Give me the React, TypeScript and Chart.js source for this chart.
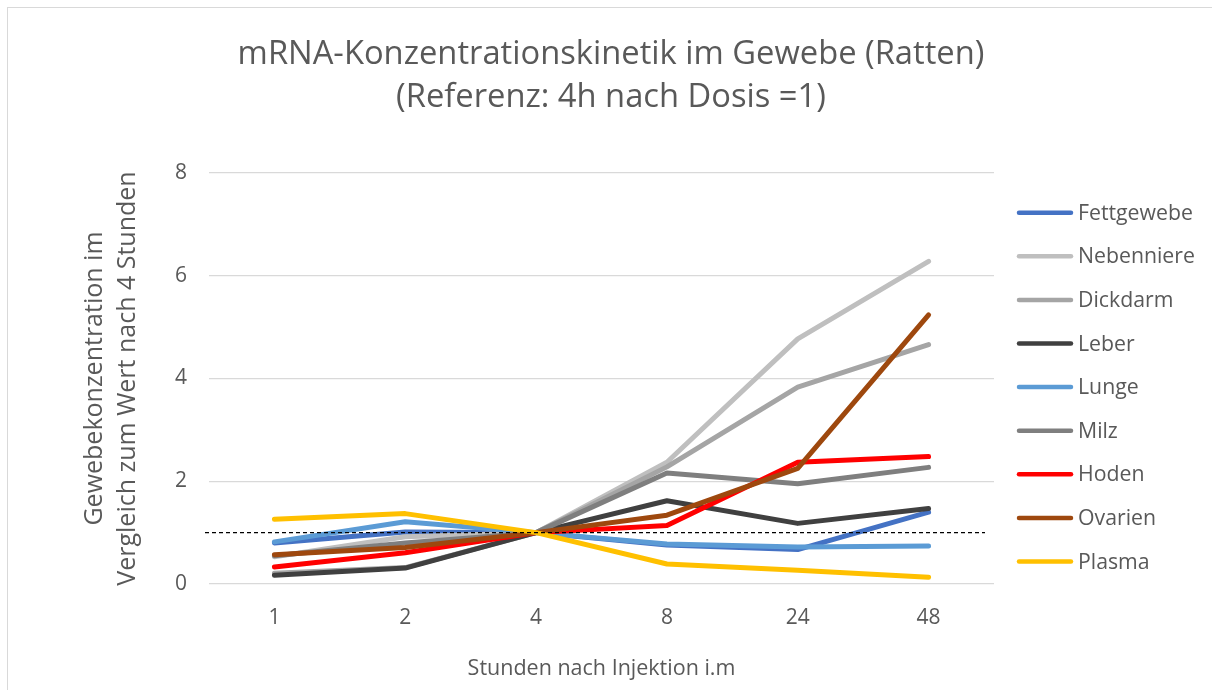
import React, { useEffect, useRef } from 'react';
import { Chart, registerables } from 'chart.js';

Chart.register(...registerables);

const categories = ['1', '2', '4', '8', '24', '48'];

const fettgewebe = [0.8, 1.01, 1, 0.76, 0.67, 1.4];
const nebenniere = [0.53, 0.92, 1, 2.37, 4.77, 6.28];
const dickdarm = [0.21, 0.32, 1, 2.28, 3.83, 4.66];
const leber = [0.17, 0.31, 1, 1.62, 1.18, 1.47];
const lunge = [0.82, 1.21, 1, 0.78, 0.72, 0.74];
const milz = [0.55, 0.8, 1, 2.16, 1.95, 2.27];
const hoden = [0.33, 0.61, 1, 1.14, 2.37, 2.48];
const ovarien = [0.57, 0.71, 1, 1.34, 2.25, 5.24];
const plasma = [1.26, 1.37, 1, 0.39, 0.27, 0.13];

const seriesNames = ['Fettgewebe', 'Nebenniere', 'Dickdarm', 'Leber', 'Lunge', 'Milz', 'Hoden', 'Ovarien', 'Plasma'];
const seriesValues = [fettgewebe, nebenniere, dickdarm, leber, lunge, milz, hoden, ovarien, plasma];
const seriesColors = ['#4472C4', '#BFBFBF', '#A5A5A5', '#404040', '#5B9BD5', '#7F7F7F', '#FF0000', '#9E480E', '#FFC000'];

const referenceValue = 1;
const yTicks = [0, 2, 4, 6, 8];

const titleLines = ['mRNA-Konzentrationskinetik im Gewebe (Ratten)', '(Referenz: 4h nach Dosis =1)'];
const yTitle = ['Gewebekonzentration im', 'Vergleich zum Wert nach 4 Stunden'];
const xTitle = 'Stunden nach Injektion i.m';

const FONT = '"Open Sans", Lato, sans-serif';
const TEXT = '#595959';

function fitSize(ctx: CanvasRenderingContext2D, text: string, target: number) {
  ctx.font = `100px ${FONT}`;
  const w = ctx.measureText(text).width;
  return (100 * target) / w;
}

export default function App() {
  const ref = useRef<HTMLCanvasElement>(null);

  useEffect(() => {
    const overlay = {
      id: 'overlay',
      afterDatasetsDraw(chart: any) {
        const { ctx, scales } = chart;
        const y = scales.y.getPixelForValue(referenceValue);
        ctx.save();
        ctx.strokeStyle = '#000000';
        ctx.lineWidth = 1.2;
        ctx.setLineDash([4, 3]);
        ctx.beginPath();
        ctx.moveTo(205, y);
        ctx.lineTo(985, y);
        ctx.stroke();
        ctx.restore();
      },
      afterDraw(chart: any) {
        const { ctx } = chart;
        ctx.save();
        ctx.fillStyle = TEXT;
        ctx.textAlign = 'center';
        ctx.textBaseline = 'middle';
        const ts = fitSize(ctx, titleLines[0], 747);
        ctx.font = `${ts}px ${FONT}`;
        ctx.fillText(titleLines[0], 611, 55);
        ctx.fillText(titleLines[1], 611, 98);

        ctx.textAlign = 'left';
        const ls = fitSize(ctx, seriesNames[0], 115);
        ctx.font = `${ls}px ${FONT}`;
        chart.data.datasets.forEach((ds: any, i: number) => {
          const yy = 212.7 + i * 43.6;
          ctx.strokeStyle = ds.borderColor;
          ctx.lineWidth = 4.5;
          ctx.lineCap = 'round';
          ctx.beginPath();
          ctx.moveTo(1019, yy);
          ctx.lineTo(1071, yy);
          ctx.stroke();
          ctx.fillText(ds.label, 1078, yy + 1);
        });
        ctx.restore();
      },
    };

    const chart = new Chart(ref.current as HTMLCanvasElement, {
      type: 'line',
      data: {
        labels: categories,
        datasets: seriesNames.map((name, i) => ({
          label: name,
          data: seriesValues[i],
          borderColor: seriesColors[i],
          backgroundColor: seriesColors[i],
          borderWidth: 5,
          borderCapStyle: 'round',
          borderJoinStyle: 'round',
          pointRadius: 0,
          tension: 0,
          order: seriesNames.length - i,
        })),
      } as any,
      options: {
        responsive: false,
        animation: false,
        layout: { padding: { top: 173, right: 218, bottom: 0, left: 0 } },
        plugins: {
          legend: { display: false },
          title: { display: false },
          tooltip: { enabled: false },
        },
        scales: {
          x: {
            offset: true,
            grid: { display: false },
            border: { display: false },
            ticks: { color: TEXT, font: { family: FONT, size: 21 }, padding: 13 },
            title: {
              display: true,
              text: xTitle,
              color: TEXT,
              font: { family: FONT, size: 21.5 },
              padding: { top: 0, bottom: 8 },
            },
            afterFit: (s: any) => {
              s.height = 106;
            },
          },
          y: {
            min: 0,
            max: 8,
            afterBuildTicks: (s: any) => {
              s.ticks = yTicks.map((v) => ({ value: v }));
            },
            ticks: { color: TEXT, font: { family: FONT, size: 21 }, padding: 22 },
            grid: { color: '#D9D9D9', lineWidth: 1.3, drawTicks: false },
            border: { display: false },
            title: {
              display: true,
              text: yTitle,
              color: TEXT,
              font: { family: FONT, size: 25, lineHeight: 1.32 },
              padding: { top: 78.5, bottom: 0 },
            },
            afterFit: (s: any) => {
              s.width = 209;
            },
          },
        },
      } as any,
      plugins: [overlay],
    });
    return () => chart.destroy();
  }, []);

  return (
    <div style={{ position: 'fixed', left: 0, top: 0, width: 1212, height: 690, background: '#fff', overflow: 'hidden' }}>
      <canvas ref={ref} width={1212} height={690} style={{ display: 'block' }} />
      <div
        style={{
          position: 'absolute',
          left: 7,
          top: 7,
          width: 1240,
          height: 720,
          border: '1px solid #D9D9D9',
          pointerEvents: 'none',
        }}
      />
    </div>
  );
}
